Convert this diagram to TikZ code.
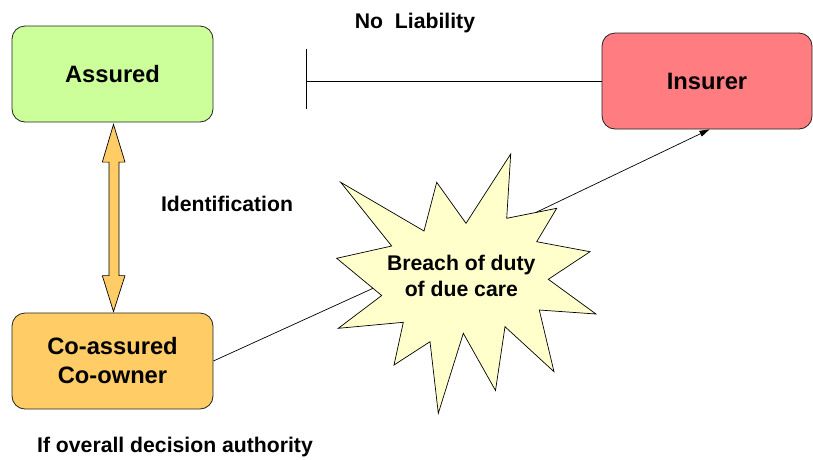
\documentclass[tikz,border=0pt]{standalone}
\usepackage{fontspec}
\setmainfont{Liberation Sans}
\usetikzlibrary{calc,arrows.meta}
\definecolor{assuredgreen}{HTML}{CCFF99}
\definecolor{insurerred}{HTML}{FF7C80}
\definecolor{coorange}{HTML}{FFCC66}
\definecolor{starfill}{HTML}{FFFFCC}
\definecolor{edgegray}{HTML}{222222}
\tikzset{
  party/.style={draw=edgegray, line width=0.8pt, rounded corners=13pt, inner sep=0pt,
    align=center, font=\fontsize{23.7}{29}\selectfont\bfseries},
  label/.style={inner sep=0pt, anchor=base, font=\fontsize{21.2}{25}\selectfont\bfseries},
  startext/.style={inner sep=0pt, align=center, font=\fontsize{21.2}{26}\selectfont\bfseries},
  thinline/.style={draw=black, line width=0.7pt},
  dblarrow/.style={draw=black, line width=0.7pt, fill=coorange, line join=miter},
  starshape/.style={draw=black, line width=0.7pt, fill=starfill, line join=miter},
}
\begin{document}
\begin{tikzpicture}[x=1pt,y=-1pt]
\useasboundingbox (0,0) rectangle (813,459);

% parties
\node[party, fill=assuredgreen, minimum width=201pt, minimum height=96pt] (assured) at (112.5,74) {Assured};
\node[party, fill=insurerred, minimum width=210pt, minimum height=96pt] (insurer) at (707,81) {Insurer};
\node[party, fill=coorange, minimum width=201pt, minimum height=96pt] (coowner) at (112.5,361) {Co-assured\\Co-owner};

% star
\filldraw[starshape] (340.7,182.3) -- (424,231) -- (436.7,182.3) -- (466,223.3) -- (510.7,154)
  -- (506.7,218.3) -- (556.7,208.3) -- (536.7,241.7) -- (590,251.7) -- (548.3,279.3)
  -- (596,314) -- (539.3,310) -- (554,371.7) -- (505,326.7) -- (495.5,390.5)
  -- (463.3,333.3) -- (438.3,413.3) -- (430,341.7) -- (394,365) -- (403.3,322.3)
  -- (338.3,328.3) -- (381.7,295.5) -- (336.7,258.3) -- (391.7,246) -- cycle;
\node[startext] (breach) at (461.3,276.2) {Breach of duty\\of due care};
\coordinate (starL) at (373,288.3);
\coordinate (starR) at (536,212.4);

% texts
\node[label] (noliab) at (415,28.3) {No\ \ Liability};
\node[label] (ident) at (227,211.7) {Identification};
\node[label] (authority) at (175,452.7) {If overall decision authority};

% no liability line
\coordinate (bar) at (306.7,81);
\draw[thinline] (insurer.west) -- (bar);
\draw[thinline] ([yshift=31.7pt]bar) -- ([yshift=-28.3pt]bar);

% identification double arrow
\coordinate (da1) at ([xshift=1pt,yshift=-2pt]assured.south);
\coordinate (da2) at ([xshift=1pt,yshift=1pt]coowner.north);
\draw[dblarrow] (da1) -- ++(-11.2,37.7) -- ++(6.7,0) -- ($(da2)+(-4.5,-36)$) -- ++(-6.7,0)
  -- (da2) -- ++(11.5,-36) -- ++(-6,0) -- ($(da1)+(5.5,37.7)$) -- ++(6,0) -- cycle;

% connectors
\draw[thinline] (coowner.east) -- (starL);
\draw[thinline, -{Triangle[length=10pt,width=6pt]}] (starR) -- ([xshift=2.5pt]insurer.south);
\end{tikzpicture}
\end{document}
